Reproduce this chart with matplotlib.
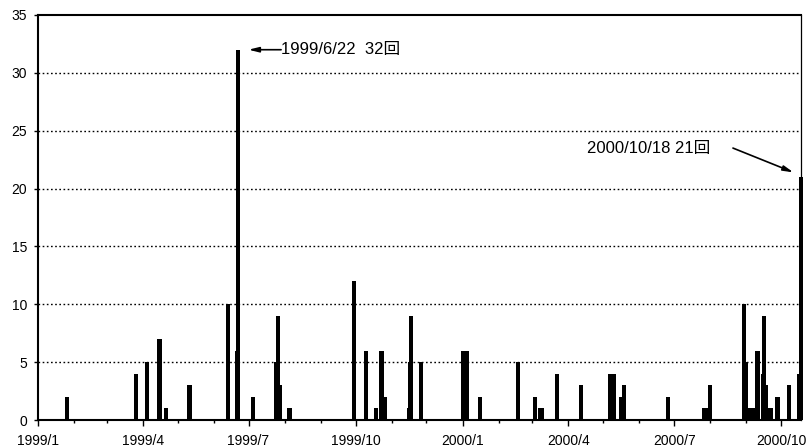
import matplotlib
matplotlib.use("Agg")
import matplotlib.pyplot as plt
import matplotlib.dates as mdates
import numpy as np
import datetime as dt

# ---- data ----
dates = [
    "1999-01-26", "1999-03-26", "1999-04-05", "1999-04-15", "1999-04-16", "1999-04-21",
    "1999-05-11", "1999-05-12", "1999-06-13", "1999-06-21", "1999-06-22", "1999-07-05",
    "1999-07-25", "1999-07-26", "1999-07-27", "1999-07-28", "1999-08-05", "1999-08-06",
    "1999-09-30", "1999-10-10", "1999-10-19", "1999-10-23", "1999-10-24", "1999-10-26",
    "1999-11-16", "1999-11-17", "1999-11-18", "1999-11-26",
    "2000-01-01", "2000-01-02", "2000-01-03", "2000-01-04", "2000-01-05",
    "2000-01-16", "2000-02-18", "2000-03-03", "2000-03-08", "2000-03-09", "2000-03-22",
    "2000-04-12", "2000-05-07", "2000-05-10", "2000-05-16", "2000-05-19", "2000-06-26",
    "2000-07-27", "2000-07-28", "2000-08-01", "2000-08-30", "2000-09-01", "2000-09-04",
    "2000-09-08", "2000-09-10", "2000-09-11", "2000-09-15", "2000-09-16", "2000-09-18",
    "2000-09-21", "2000-09-22", "2000-09-27", "2000-09-28", "2000-10-08", "2000-10-16",
    "2000-10-18",
]
counts = [
    2, 4, 5, 7, 7, 1,
    3, 3, 10, 6, 32, 2,
    5, 9, 3, 3, 1, 1,
    12, 6, 1, 6, 6, 2,
    1, 5, 9, 5,
    6, 6, 6, 6, 6,
    2, 5, 2, 1, 1, 4,
    3, 4, 4, 2, 3, 2,
    1, 1, 3, 10, 5, 1,
    1, 6, 6, 4, 9, 3,
    1, 1, 2, 2, 3, 4,
    21,
]
tick_dates = ["1999-01-01", "1999-04-01", "1999-07-01", "1999-10-01",
              "2000-01-01", "2000-04-01", "2000-07-01", "2000-10-01"]
tick_labels = ["1999/1", "1999/4", "1999/7", "1999/10",
               "2000/1", "2000/4", "2000/7", "2000/10"]
y_ticks = [0, 5, 10, 15, 20, 25, 30, 35]
x_start, x_end = "1999-01-01", "2000-10-18"
note1 = ("1999-06-22", 32, "1999/6/22  32回")
note2 = ("2000-10-18", 21, "2000/10/18 21回")

def d(s):
    return mdates.date2num(dt.datetime.strptime(s, "%Y-%m-%d"))

fam = ["Liberation Sans", "Noto Sans CJK JP", "DejaVu Sans"]
plt.rcParams["font.family"] = fam

fig = plt.figure(figsize=(8.07, 4.47), dpi=100)
ax = fig.add_axes([38/807, 27/447, (801-38)/807, (420-15)/447])

xs = [d(s) for s in dates]
ax.bar(xs, counts, width=3.4, color="black", edgecolor="none", clip_on=False, zorder=3)

ax.set_xlim(d(x_start), d(x_end))
ax.set_ylim(0, 35)
ax.set_yticks(y_ticks)
ax.set_yticklabels([str(v) for v in y_ticks], fontsize=10)
ax.set_xticks([d(s) for s in tick_dates])
ax.set_xticklabels(tick_labels, fontsize=10)
ax.xaxis.set_minor_locator(mdates.MonthLocator())

for v in y_ticks[1:-1]:
    ax.axhline(v, color="black", linestyle=(0, (1.2, 1.8)), linewidth=1.0, zorder=1)

for s in ["left", "bottom", "top"]:
    ax.spines[s].set_linewidth(1.5)
ax.spines["right"].set_linewidth(0.9)
ax.tick_params(axis="y", direction="out", length=3, width=1, pad=5)
ax.tick_params(axis="x", which="major", direction="out", length=4, width=1, pad=6)
ax.tick_params(axis="x", which="minor", direction="out", length=2, width=1)

# annotations
x1 = d(note1[0])
ax.annotate("", xy=(x1 + 9, note1[1]), xytext=(x1 + 37, note1[1]),
            arrowprops=dict(arrowstyle="-|>,head_length=0.6,head_width=0.15",
                            color="black", lw=1.2, shrinkA=0, shrinkB=0))
ax.text(x1 + 37, note1[1], note1[2], fontsize=12, ha="left", va="center", family=fam)

x2 = d(note2[0])
ax.text(x2 - 184, 23.5, note2[2], fontsize=12, ha="left", va="center", family=fam)
ax.annotate("", xy=(x2 - 6.5, 21.4), xytext=(x2 - 58.5, 23.5),
            arrowprops=dict(arrowstyle="-|>,head_length=0.6,head_width=0.15",
                            color="black", lw=1.2, shrinkA=0, shrinkB=0))

fig.savefig("out.png", dpi=100)
